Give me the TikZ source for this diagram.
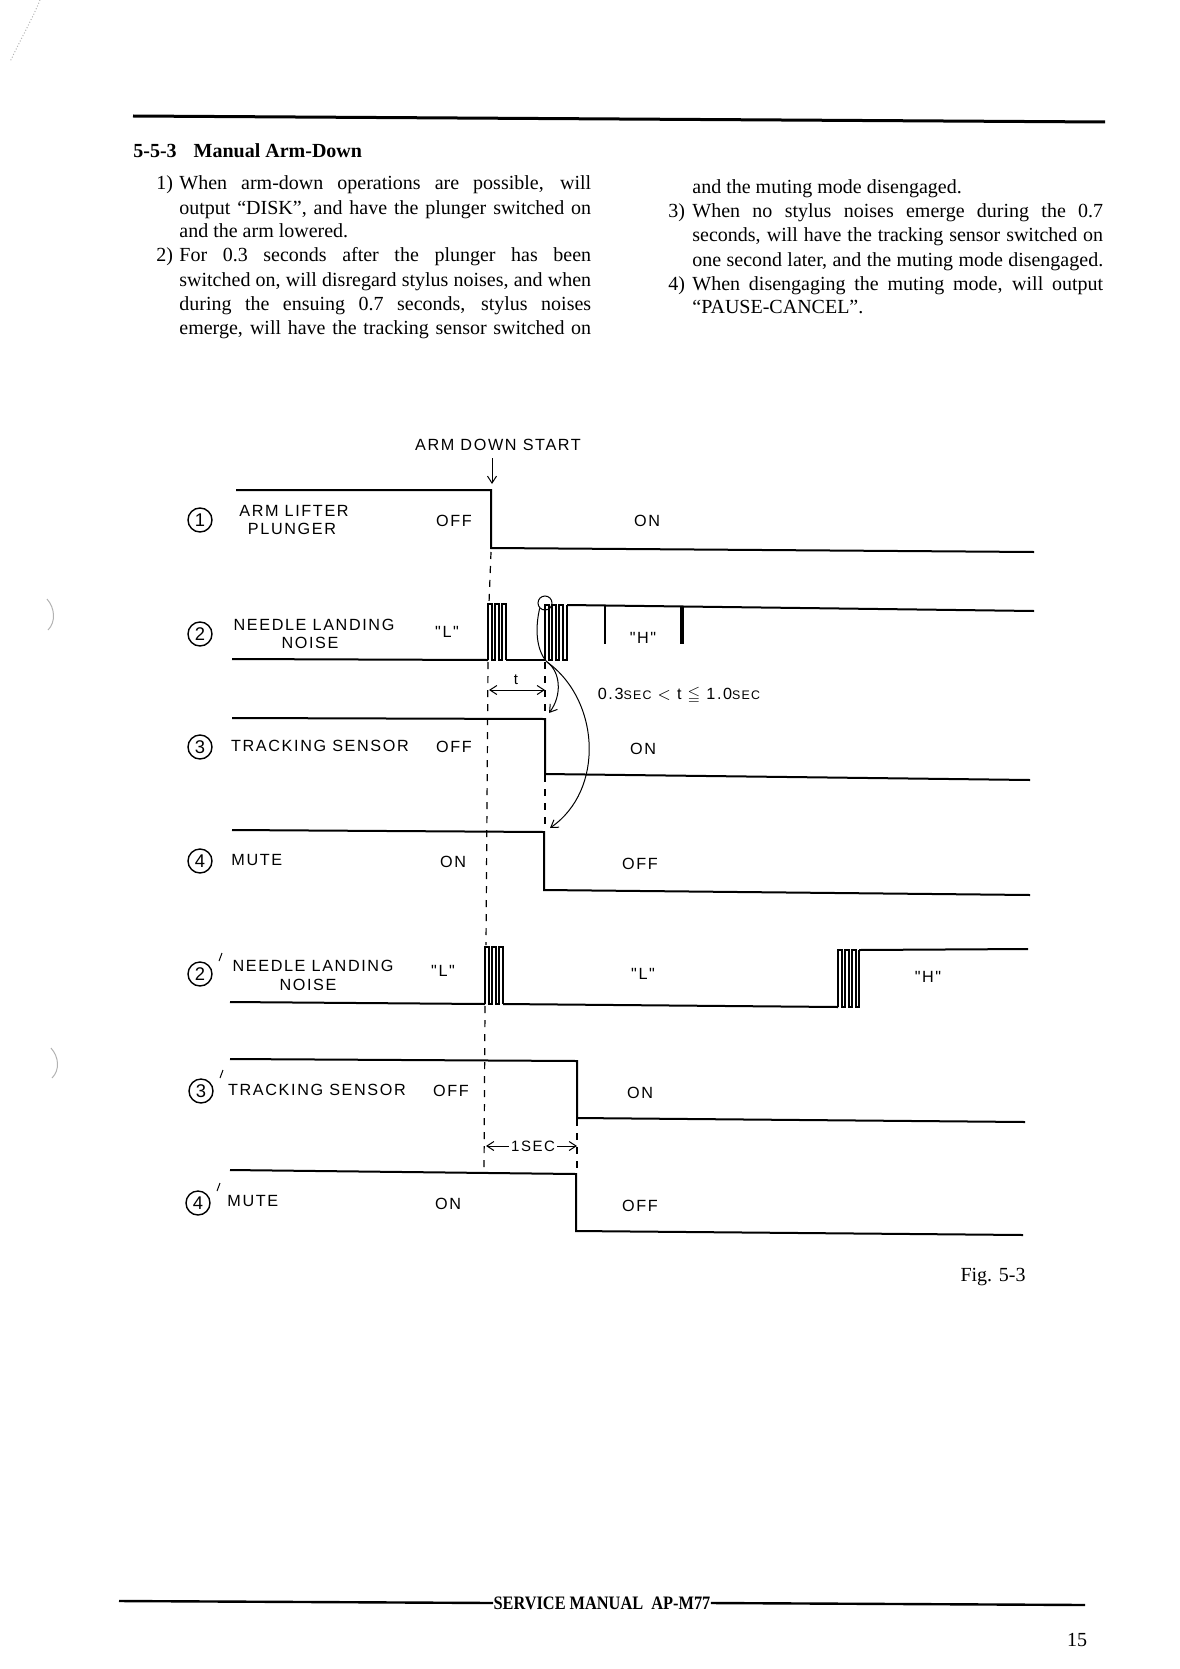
\documentclass[tikz,border=0pt]{standalone}
\usepackage{fontspec}
\setmainfont{Liberation Serif}
\newfontfamily\lab[LetterSpace=10]{Liberation Sans}
\newfontfamily\labn{Liberation Sans}
\usepackage{amssymb}
\usepackage{graphicx}
\usetikzlibrary{arrows.meta}
\begin{document}
\begin{tikzpicture}[x=0.5pt,y=-0.5pt,
  wave/.style={line width=1pt, line join=miter},
  burst/.style={line width=0.55pt, line join=miter},
  guide/.style={line width=0.6pt, dash pattern=on 3.5pt off 3.5pt},
  thinline/.style={line width=0.5pt},
  tip/.style={-{Straight Barb[length=3.5pt,width=4.5pt]}},
  lbl/.style={font=\lab\fontsize{8.1}{9.6}\selectfont, inner sep=0pt},
  body/.style={font=\fontsize{10}{12}\selectfont, inner sep=0pt, anchor=base west},
  num/.style={circle, draw, line width=0.7pt, minimum size=12pt, inner sep=0pt, font=\labn\fontsize{9.2}{9.2}\selectfont},
  rule/.style={line width=1.5pt},
  scan/.style={gray!60, line width=0.5pt}]
\useasboundingbox (0,0) rectangle (1179,1669);

% ---- scan marks
\draw[scan, densely dotted] (40,0) .. controls (32,20) and (20,40) .. (10,62);
\draw[scan] (47,599) .. controls (55,608) and (56,622) .. (48,630);
\draw[scan] (51,1048) .. controls (59,1057) and (60,1070) .. (52,1078);

% ---- header rule and text
\draw[rule] (133,116) -- (1105,122);
\node[font=\bfseries\fontsize{10}{12}\selectfont, inner sep=0pt, anchor=base west] (head) at (133,158) {5-5-3\hspace{8.5pt}Manual Arm-Down};

\node[body] (n1) at (156,190) {1)};
\node[body] (l1) at (179,190) {\makebox[205.9pt][s]{When arm-down operations are possible, will}};
\node[body] (l2) at (179,214) {\makebox[205.9pt][s]{output “DISK”, and have the plunger switched on}};
\node[body] (l3) at (179,238) {and the arm lowered.};
\node[body] (n2) at (156,262) {2)};
\node[body] (l4) at (179,262) {\makebox[205.9pt][s]{For 0.3 seconds after the plunger has been}};
\node[body] (l5) at (179,286) {\makebox[205.9pt][s]{switched on, will disregard stylus noises, and when}};
\node[body] (l6) at (179,310) {\makebox[205.9pt][s]{during the ensuing 0.7 seconds, stylus noises}};
\node[body] (l7) at (179,334) {\makebox[205.9pt][s]{emerge, will have the tracking sensor switched on}};

\node[body] (m1) at (692,194) {and the muting mode disengaged.};
\node[body] (n3) at (668,218) {3)};
\node[body] (m2) at (692,218) {\makebox[205.4pt][s]{When no stylus noises emerge during the 0.7}};
\node[body] (m3) at (692,242) {\makebox[205.4pt][s]{seconds, will have the tracking sensor switched on}};
\node[body] (m4) at (692,266) {\makebox[205.4pt][s]{one second later, and the muting mode disengaged.}};
\node[body] (n4) at (668,290) {4)};
\node[body] (m5) at (692,290) {\makebox[205.4pt][s]{When disengaging the muting mode, will output}};
\node[body] (m6) at (692,314) {“PAUSE-CANCEL”.};

% ---- ARM DOWN START
\node[lbl] (ads) at (498,445) {ARM DOWN START};
\coordinate (adtop) at (492,458);
\coordinate (adbot) at (492,484);
\draw[thinline,tip] (adtop) -- (adbot);

% ---- row 1
\node[num] (c1) at (200,520) {1};
\node[lbl] (r1t1) at (294,511) {ARM LIFTER};
\node[lbl] (r1t2) at (292,529) {PLUNGER};
\node[lbl] (r1off) at (454,521) {OFF};
\node[lbl] (r1on) at (647,521) {ON};
\draw[wave] (236,490) -- (491,490) -- (491,548) -- (1034,552);

% ---- row 2
\node[num] (c2) at (200,634) {2};
\node[lbl] (r2t1) at (314,625) {NEEDLE LANDING};
\node[lbl] (r2t2) at (310,643) {NOISE};
\node[lbl] (r2L) at (447,632) {"L"};
\node[lbl] (r2H) at (643,638) {"H"};
\draw[wave] (232,659) -- (488,660);
\draw[burst] (488,660) -- (488,604) -- (492,604) -- (492,660) -- (495,660) -- (495,604) -- (499,604) -- (499,660)
  -- (502,660) -- (502,604) -- (506,604) -- (506,660);
\draw[wave] (506,660) -- (545,660);
\draw[burst] (545,660) -- (545,605) -- (549,605) -- (549,660) -- (552,660) -- (552,605) -- (556,605) -- (556,660)
  -- (559,660) -- (559,605) -- (563,605) -- (563,660) -- (567,660) -- (567,605);
\draw[wave] (567,605) -- (1034,611);
\draw[wave] (605,606) -- (605,644);
\draw[line width=1.8pt] (682,607) -- (682,644);

% ---- timing t
\node[font=\labn\fontsize{7.5}{8}\selectfont, inner sep=0pt] (tl) at (516,680) {t};
\draw[thinline,tip] (516,690) -- (489,690);
\draw[thinline,tip] (516,690) -- (545,690);
\node[lbl] (cond) at (679,695) {0.3{\fontsize{6.2}{6}\selectfont SEC} $<$ t $\leqq$ 1.0{\fontsize{6.2}{6}\selectfont SEC}};

% ---- guides
\draw[guide] (491,552) -- (489,603);
\draw[guide] (488,662) -- (486,945);
\draw[guide] (485,1006) -- (484,1172);
\draw[guide] (545,662) -- (545,718);
\draw[guide] (545,775) -- (545,831);
\draw[guide] (577,1119) -- (577,1174);

% ---- circle and curved arrows
\node[circle, draw, thinline, minimum size=7pt, inner sep=0pt] (cc) at (545,603) {};
\coordinate (cb) at (547,662);
\coordinate (t3) at (549,713);
\coordinate (t4) at (550,828);
\draw[thinline] (cc.south west) .. controls (535,628) and (536,650) .. (cb);
\draw[thinline,tip] (cb) .. controls (561,672) and (562,696) .. (t3);
\draw[thinline,tip] (cb) .. controls (600,700) and (605,790) .. (t4);

% ---- row 3
\node[num] (c3) at (200,747) {3};
\node[lbl] (r3t) at (320,746) {TRACKING SENSOR};
\node[lbl] (r3off) at (454,747) {OFF};
\node[lbl] (r3on) at (643,749) {ON};
\draw[wave] (232,718) -- (545,719) -- (545,774) -- (1030,780);

% ---- row 4
\node[num] (c4) at (200,861) {4};
\node[lbl, anchor=west] (r4t) at (231,860) {MUTE};
\node[lbl] (r4on) at (453,862) {ON};
\node[lbl] (r4off) at (640,864) {OFF};
\draw[wave] (232,830) -- (544,832) -- (544,890) -- (1030,895);

% ---- row 2'
\node[num] (c2p) at (200,974) {2};
\draw[thinline] (219,961) -- (222,953);
\node[lbl] (r2pt1) at (313,966) {NEEDLE LANDING};
\node[lbl] (r2pt2) at (308,985) {NOISE};
\node[lbl] (r2pL1) at (443,971) {"L"};
\node[lbl] (r2pL2) at (643,974) {"L"};
\node[lbl] (r2pH) at (928,977) {"H"};
\draw[wave] (230,1002) -- (485,1004);
\draw[burst] (485,1004) -- (485,947) -- (489,947) -- (489,1004) -- (492,1004) -- (492,947) -- (496,947) -- (496,1004)
  -- (499,1004) -- (499,947) -- (503,947) -- (503,1004);
\draw[wave] (503,1004) -- (838,1007);
\draw[burst] (838,1007) -- (838,950) -- (842,950) -- (842,1007) -- (845,1007) -- (845,950) -- (849,950) -- (849,1007)
  -- (852,1007) -- (852,950) -- (856,950) -- (856,1007) -- (859,1007) -- (859,950);
\draw[wave] (859,950) -- (1028,949);

% ---- row 3'
\node[num] (c3p) at (201,1091) {3};
\draw[thinline] (220,1078) -- (223,1070);
\node[lbl] (r3pt) at (317,1090) {TRACKING SENSOR};
\node[lbl] (r3poff) at (451,1091) {OFF};
\node[lbl] (r3pon) at (640,1093) {ON};
\draw[wave] (230,1059) -- (577,1061) -- (577,1118) -- (1025,1122);

% ---- 1 SEC
\node[font=\lab\fontsize{7.5}{8}\selectfont, inner sep=1pt] (sec) at (533,1146) {1SEC};
\draw[thinline,tip] (sec.west) -- (486,1146);
\draw[thinline,tip] (sec.east) -- (577,1146);

% ---- row 4'
\node[num] (c4p) at (198,1203) {4};
\draw[thinline] (217,1191) -- (220,1183);
\node[lbl, anchor=west] (r4pt) at (227,1201) {MUTE};
\node[lbl] (r4pon) at (448,1204) {ON};
\node[lbl] (r4poff) at (640,1206) {OFF};
\draw[wave] (230,1170) -- (576,1174) -- (576,1231) -- (1023,1235);

% ---- caption and footer
\node[font=\fontsize{10}{12}\selectfont, inner sep=0pt] (fig) at (993,1277) {Fig. 5-3};
\node[font=\bfseries\fontsize{9.5}{11}\selectfont, inner sep=0pt] (foot) at (602,1603) {\scalebox{0.86}[1]{SERVICE MANUAL\ \ AP-M77}};
\draw[line width=1.2pt] (119,1601) -- (foot.west);
\draw[line width=1.2pt] (foot.east) -- (1085,1605);
\node[font=\fontsize{10}{12}\selectfont, inner sep=0pt] (pg) at (1077,1640) {15};
\end{tikzpicture}
\end{document}
